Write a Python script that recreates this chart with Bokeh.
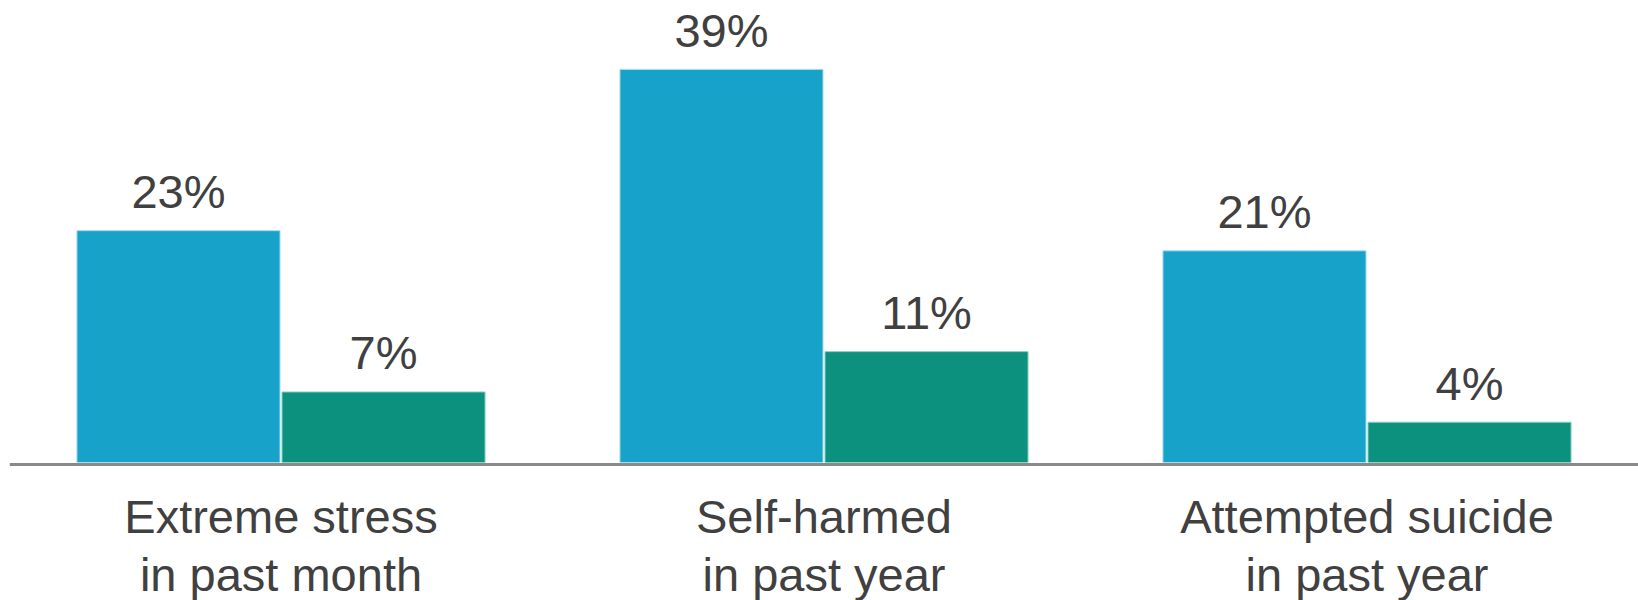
from bokeh.plotting import figure
from bokeh.models import ColumnDataSource, FactorRange, Span
from bokeh.transform import dodge
from bokeh.core.properties import value
from bokeh.embed import file_html
from bokeh.resources import INLINE

categories = ["Extreme stress\nin past month", "Self-harmed\nin past year", "Attempted suicide\nin past year"]
series_a = [23, 39, 21]
series_b = [7, 11, 4]
labels_a = ["23%", "39%", "21%"]
labels_b = ["7%", "11%", "4%"]

BLUE = "#17A2C9"
GREEN = "#0B917E"
TEXT = "#404040"
FONT = "Liberation Sans"

src = ColumnDataSource(dict(cat=categories, a=series_a, b=series_b, la=labels_a, lb=labels_b,
                            zero=[0] * len(categories)))

px_per_unit = 10.08
p = figure(
    width=1638, height=600,
    x_range=FactorRange(*categories, range_padding=0),
    y_range=(-138 / px_per_unit, 462 / px_per_unit),
    output_backend="svg", toolbar_location=None,
    min_border_left=9, min_border_right=0, min_border_top=0, min_border_bottom=0,
)
p.outline_line_color = None
p.background_fill_color = "white"
p.border_fill_color = "white"
p.grid.grid_line_color = None
p.xaxis.visible = False
p.yaxis.visible = False

bw = 0.374
off = 0.1888
p.vbar(x=dodge("cat", -off, range=p.x_range), top="a", width=bw, bottom=0, source=src,
       fill_color=BLUE, line_color="#a8dced", line_width=1)
p.vbar(x=dodge("cat", off, range=p.x_range), top="b", width=bw, bottom=0, source=src,
       fill_color=GREEN, line_color="#8fd3c6", line_width=1)

p.add_layout(Span(location=-0.2, dimension="width", line_color="#8a8a8a", line_width=3))

p.text(x=dodge("cat", -off, range=p.x_range), y="a", text="la", source=src,
       text_align="center", text_baseline="alphabetic", y_offset=-39,
       text_font=value(FONT), text_font_size="47px", text_color=TEXT)
p.text(x=dodge("cat", off, range=p.x_range), y="b", text="lb", source=src,
       text_align="center", text_baseline="alphabetic", y_offset=-39,
       text_font=value(FONT), text_font_size="47px", text_color=TEXT)

p.text(x="cat", y="zero", text="cat", source=src,
       text_align="center", text_baseline="top", y_offset=27,
       text_font=value(FONT), text_font_size="47px", text_color=TEXT,
       text_line_height=1.11)

open("out.html", "w").write(file_html(p, INLINE))
